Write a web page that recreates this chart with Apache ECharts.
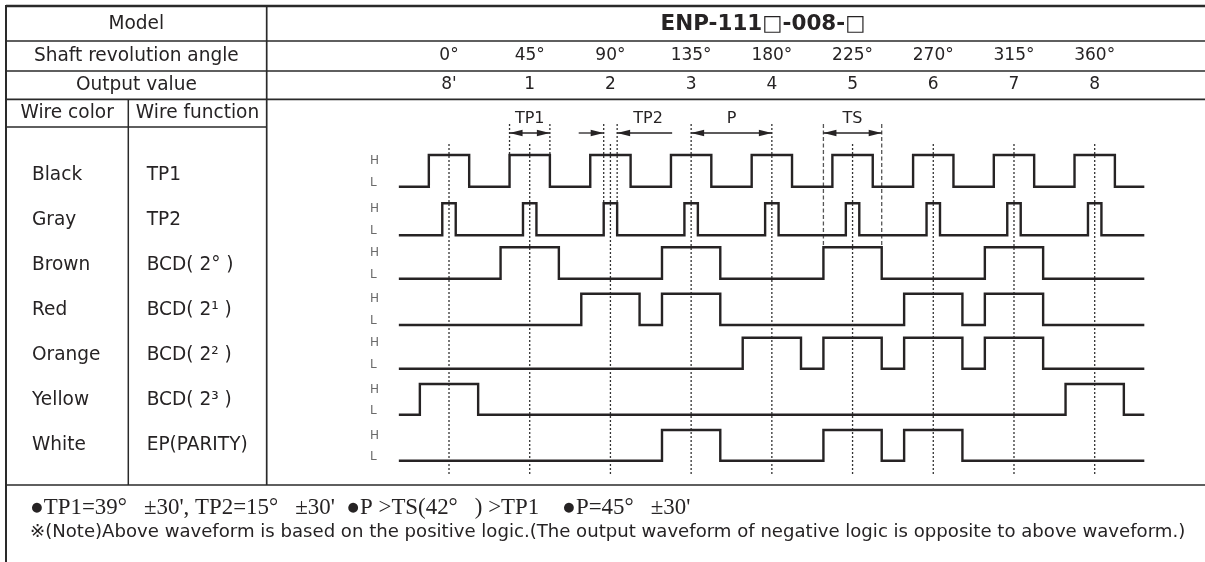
<!DOCTYPE html>
<html><head><meta charset="utf-8">
<script src="https://cdn.jsdelivr.net/npm/echarts@6/dist/echarts.min.js"></script>
<style>html,body{margin:0;padding:0;background:#fff}#c{width:1205px;height:562px}</style>
</head><body><div id="c"></div>
<script>
// ---------- data ----------
const angleTicks   = [0, 45, 90, 135, 180, 225, 270, 315, 360];
const angleLabels  = ['0°','45°','90°','135°','180°','225°','270°','315°','360°'];
const outputLabels = ["8'", '1', '2', '3', '4', '5', '6', '7', '8'];
const wireColors    = ['Black','Gray','Brown','Red','Orange','Yellow','White'];
const wireFunctions = ['TP1','TP2','BCD( 2° )','BCD( 2¹ )','BCD( 2² )','BCD( 2³ )','EP(PARITY)'];
const modelName = 'ENP-111□-008-□';
const traceStart = -27.3, traceEnd = 387;
// high intervals [rise, fall] in degrees
const tp1High = [[-11.25,11.25],[33.75,56.25],[78.75,101.25],[123.75,146.25],[168.75,191.25],[213.75,236.25],[258.75,281.25],[303.75,326.25],[348.75,371.25]];
const tp2High = [[-3.75,3.75],[41.25,48.75],[86.25,93.75],[131.25,138.75],[176.25,183.75],[221.25,228.75],[266.25,273.75],[311.25,318.75],[356.25,363.75]];
const bcd1High = [[28.75,61.25],[118.75,151.25],[208.75,241.25],[298.75,331.25]];
const bcd2High = [[73.75,106.25],[118.75,151.25],[253.75,286.25],[298.75,331.25]];
const bcd4High = [[163.75,196.25],[208.75,241.25],[253.75,286.25],[298.75,331.25]];
const bcd8High = [[-16.25,16.25],[343.75,376.25]];
const parityHigh = [[118.75,151.25],[208.75,241.25],[253.75,286.25]];
const noteLine1 = "●TP1=39°   ±30', TP2=15°   ±30'  ●P >TS(42°   ) >TP1    ●P=45°   ±30'";
const noteLine2 = '※(Note)Above waveform is based on the positive logic.(The output waveform of negative logic is opposite to above waveform.)';

// ---------- layout ----------
const X_MIN = -45, X_MAX = 405;
const plotLeft = 368.29, plotWidth = 807.12;
const rowHigh = [155, 203.3, 247.3, 293.7, 337.7, 384, 430];
const rowLow  = [186.7, 235.3, 278.7, 325, 368.7, 414.7, 460.7];
const signals = [tp1High, tp2High, bcd1High, bcd2High, bcd4High, bcd8High, parityHigh];
const INK = '#262324';
const SANS = '"DejaVu Sans", sans-serif';
const SERIF = '"Liberation Serif", serif';

const mctx = document.createElement('canvas').getContext('2d');
function fit(text, family, weight, target) {
  mctx.font = weight + ' 100px ' + family;
  return 100 * target / mctx.measureText(text).width;
}
const baseSize = fit('Shaft revolution angle', SANS, 'normal', 205);
const titleSize = fit(modelName, SANS, 'bold', 205);
const note1Size = fit(noteLine1, SERIF, 'normal', 661);
const note2Size = fit(noteLine2, SANS, 'normal', 1156);

function stepData(intervals) {
  const d = [[traceStart, 0]];
  intervals.forEach(([s, e]) => { d.push([s, 0], [s, 1], [e, 1], [e, 0]); });
  d.push([traceEnd, 0]);
  return d;
}

const grids = [], xAxes = [], yAxes = [], series = [];
signals.forEach((sig, i) => {
  grids.push({ left: plotLeft, width: plotWidth, top: rowHigh[i], height: rowLow[i] - rowHigh[i] });
  xAxes.push({ type: 'value', gridIndex: i, min: X_MIN, max: X_MAX, interval: 45, show: false });
  yAxes.push({
    type: 'value', gridIndex: i, min: 0, max: 1, interval: 1,
    axisLine: { show: false }, axisTick: { show: false }, splitLine: { show: false },
    axisLabel: {
      margin: -1.7, align: 'left',
      formatter: v => v === 1 ? '{h|H}' : '{l|L}',
      rich: {
        h: { fontSize: 12, fontFamily: SANS, color: '#6a6a6a', padding: [11, 0, 0, 0] },
        l: { fontSize: 12, fontFamily: SANS, color: '#6a6a6a', padding: [0, 0, 8, 0] }
      }
    }
  });
  series.push({
    type: 'line', xAxisIndex: i, yAxisIndex: i, data: stepData(sig),
    symbol: 'none', clip: false, silent: true,
    lineStyle: { color: INK, width: 2.4, join: 'miter', cap: 'square' }
  });
});

// header grid for angle / output value labels
const hg = grids.length;
grids.push({ left: plotLeft, width: plotWidth, top: 56, height: 29 });
const angleFmt = v => { const k = angleTicks.indexOf(v); return k < 0 ? '' : angleLabels[k]; };
const outFmt = v => { const k = angleTicks.indexOf(v); return k < 0 ? '' : outputLabels[k]; };
const hdrLabel = { margin: 0, verticalAlign: 'middle', fontSize: 17, fontFamily: SANS, color: INK };
xAxes.push({ type: 'value', gridIndex: hg, position: 'top', min: X_MIN, max: X_MAX, interval: 45,
  axisLine: { show: false }, axisTick: { show: false }, splitLine: { show: false },
  axisLabel: Object.assign({ formatter: angleFmt }, hdrLabel) });
xAxes.push({ type: 'value', gridIndex: hg, position: 'bottom', min: X_MIN, max: X_MAX, interval: 45,
  axisLine: { show: false }, axisTick: { show: false }, splitLine: { show: false },
  axisLabel: Object.assign({ formatter: outFmt }, hdrLabel) });
yAxes.push({ type: 'value', gridIndex: hg, show: false, min: 0, max: 1 });

const chart = echarts.init(document.getElementById('c'));
chart.setOption({
  animation: false,
  backgroundColor: '#fff',
  grid: grids, xAxis: xAxes, yAxis: yAxes, series: series
});

// ---------- decorations ----------
const px = a => chart.convertToPixel({ xAxisIndex: 0 }, a);
const g = [];
function line(x1, y1, x2, y2, w, opt) {
  g.push(Object.assign({ type: 'line', silent: true, shape: { x1, y1, x2, y2 },
    style: Object.assign({ stroke: '#2a2a2a', lineWidth: w }, opt || {}) }));
}
function text(str, x, y, size, align, extra) {
  g.push({ type: 'text', silent: true, x, y,
    style: Object.assign({ text: str, fontSize: size, fontFamily: SANS, fill: INK,
      align: align || 'center', verticalAlign: 'middle' }, extra || {}) });
}
function head(xTip, y, dir) {
  g.push({ type: 'polygon', silent: true,
    shape: { points: [[xTip, y], [xTip - dir * 13, y - 3.3], [xTip - dir * 13, y + 3.3]] },
    style: { fill: INK } });
}

// table lines
const L = 6, C1 = 128.3, C2 = 266.7, R = 1205;
line(L, 6, R, 6, 2.6);
line(L, 41, R, 41, 1.7);
line(L, 71, R, 71, 1.7);
line(L, 99.3, R, 99.3, 1.7);
line(L, 127, C2, 127, 1.5);
line(L, 485, R, 485, 1.7);
line(L, 5, L, 562, 2);
line(C1, 99.3, C1, 485, 1.5);
line(C2, 6, C2, 485, 1.7);

// left texts
text('Model', (L + C2) / 2, 24.5, baseSize);
text(modelName, 763, 24.5, titleSize, 'center', { fontWeight: 'bold' });
text('Shaft revolution angle', (L + C2) / 2, 56, baseSize);
text('Output value', (L + C2) / 2, 85, baseSize);
text('Wire color', (L + C1) / 2, 113, baseSize);
text('Wire function', (C1 + C2) / 2, 113, baseSize);
wireColors.forEach((w, i) => text(w, 32, 175 + 45 * i, baseSize, 'left'));
wireFunctions.forEach((w, i) => text(w, 146.7, 175 + 45 * i, baseSize, 'left'));

// notes
text(noteLine1, 30, 508, note1Size, 'left', { fontFamily: SERIF });
text(noteLine2, 30, 532, note2Size, 'left');

// vertical dotted angle lines
const annTop = 124, dotTop = 144, dotBottom = 474, arrowY = 133, labelY = 119;
const pSpan = [angleTicks[3], angleTicks[4]];
angleTicks.forEach(v => {
  const top = (v === pSpan[0] || v === pSpan[1]) ? annTop : dotTop;
  line(px(v), top, px(v), dotBottom, 1.3, { stroke: '#333', lineDash: [2, 2] });
});

// TP1 span
const tp1Span = tp1High[1];
tp1Span.forEach(a => line(px(a), annTop, px(a), rowHigh[0], 1.3, { stroke: '#333', lineDash: [2, 2] }));
line(px(tp1Span[0]), arrowY, px(tp1Span[1]), arrowY, 1.3, { stroke: INK });
head(px(tp1Span[0]), arrowY, -1); head(px(tp1Span[1]), arrowY, 1);
text('TP1', (px(tp1Span[0]) + px(tp1Span[1])) / 2, labelY, 16);

// TP2 span (arrows pointing inward)
const tp2Span = tp2High[2];
tp2Span.forEach(a => line(px(a), annTop, px(a), rowHigh[1], 1.3, { stroke: '#333', lineDash: [2, 2] }));
line(px(tp2Span[0]) - 25, arrowY, px(tp2Span[0]), arrowY, 1.3, { stroke: INK });
head(px(tp2Span[0]), arrowY, 1);
line(px(tp2Span[1]), arrowY, px(tp2Span[1]) + 55, arrowY, 1.3, { stroke: INK });
head(px(tp2Span[1]), arrowY, -1);
text('TP2', px(tp2Span[1]) + 31, labelY, 16);

// P span
line(px(pSpan[0]), arrowY, px(pSpan[1]), arrowY, 1.3, { stroke: INK });
head(px(pSpan[0]), arrowY, -1); head(px(pSpan[1]), arrowY, 1);
text('P', (px(pSpan[0]) + px(pSpan[1])) / 2, labelY, 16);

// TS span
const tsSpan = bcd1High[2];
tsSpan.forEach(a => line(px(a), annTop, px(a), rowHigh[2], 1.3, { stroke: '#555', lineDash: [4, 2.5] }));
line(px(tsSpan[0]), arrowY, px(tsSpan[1]), arrowY, 1.3, { stroke: INK });
head(px(tsSpan[0]), arrowY, -1); head(px(tsSpan[1]), arrowY, 1);
text('TS', (px(tsSpan[0]) + px(tsSpan[1])) / 2, labelY, 16);

chart.setOption({ graphic: { elements: g } });
</script></body></html>
